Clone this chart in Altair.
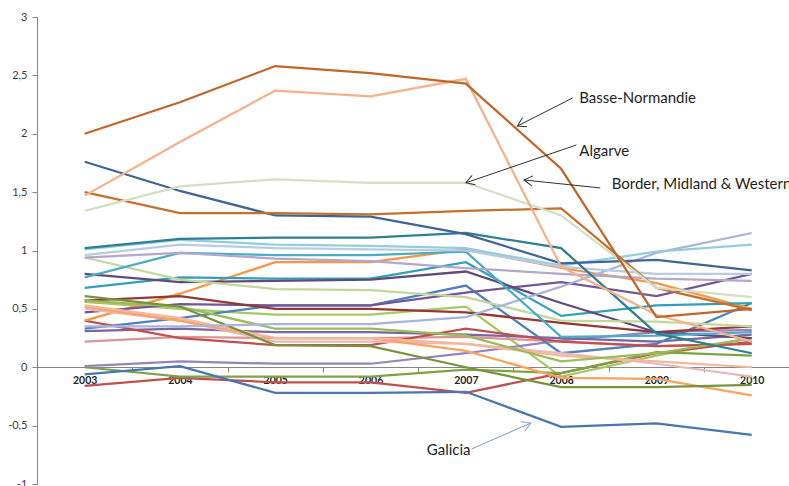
import math

import altair as alt
import pandas as pd

# ---------------------------------------------------------------- data
YEARS = [2003, 2004, 2005, 2006, 2007, 2008, 2009, 2010]

BASSE_NORMANDIE = [2.00, 2.27, 2.58, 2.52, 2.43, 1.70, 0.43, 0.50]
BORDER_MIDLAND_WESTERN = [1.47, 1.93, 2.37, 2.32, 2.47, 0.86, 0.45, 0.22]
ALGARVE = [1.34, 1.55, 1.61, 1.58, 1.58, 1.30, 0.68, 0.60]
GALICIA = [-0.06, 0.01, -0.22, -0.22, -0.21, -0.51, -0.48, -0.58]
REGION_05 = [1.50, 1.32, 1.32, 1.31, 1.34, 1.36, 0.68, 0.49]
REGION_06 = [1.76, 1.51, 1.30, 1.29, 1.14, 0.89, 0.92, 0.83]
REGION_07 = [1.02, 1.10, 1.11, 1.11, 1.15, 1.02, 0.29, 0.12]
REGION_08 = [0.96, 1.05, 1.02, 1.01, 1.00, 0.86, 0.80, 0.80]
REGION_09 = [0.94, 0.98, 0.93, 0.91, 0.85, 0.80, 0.76, 0.74]
REGION_10 = [0.77, 0.98, 0.96, 0.96, 0.99, 0.26, 0.27, 0.30]
REGION_11 = [1.01, 1.09, 1.05, 1.04, 1.02, 0.87, 0.99, 1.05]
REGION_12 = [0.35, 0.35, 0.37, 0.37, 0.43, 0.69, 0.98, 1.15]
REGION_13 = [0.94, 0.75, 0.67, 0.66, 0.60, 0.40, 0.39, 0.35]
REGION_14 = [0.80, 0.73, 0.74, 0.75, 0.82, 0.55, 0.30, 0.25]
REGION_15 = [0.68, 0.77, 0.76, 0.76, 0.90, 0.44, 0.53, 0.55]
REGION_16 = [0.61, 0.52, 0.19, 0.18, 0.00, -0.17, -0.17, -0.15]
REGION_17 = [0.57, 0.52, 0.33, 0.33, 0.27, 0.05, 0.12, 0.25]
REGION_18 = [0.57, 0.61, 0.50, 0.50, 0.47, 0.38, 0.30, 0.35]
REGION_19 = [0.53, 0.42, 0.25, 0.25, 0.20, 0.10, 0.05, 0.00]
REGION_20 = [0.52, 0.40, 0.25, 0.25, 0.14, -0.09, -0.10, -0.24]
REGION_21 = [0.50, 0.40, 0.22, 0.22, 0.20, 0.12, 0.03, -0.08]
REGION_22 = [0.47, 0.54, 0.53, 0.53, 0.64, 0.73, 0.61, 0.80]
REGION_23 = [0.40, 0.63, 0.90, 0.90, 1.01, 0.85, 0.72, 0.50]
REGION_24 = [0.40, 0.25, 0.19, 0.19, 0.33, 0.22, 0.18, 0.20]
REGION_25 = [0.33, 0.42, 0.53, 0.53, 0.70, 0.12, 0.20, 0.55]
REGION_26 = [0.31, 0.33, 0.30, 0.30, 0.28, 0.25, 0.22, 0.28]
REGION_27 = [0.22, 0.26, 0.25, 0.25, 0.26, 0.22, 0.18, 0.20]
REGION_28 = [0.01, 0.05, 0.03, 0.03, 0.12, 0.23, 0.30, 0.32]
REGION_29 = [0.00, -0.08, -0.08, -0.08, -0.02, -0.05, 0.13, 0.10]
REGION_30 = [-0.16, -0.09, -0.13, -0.13, -0.22, -0.05, 0.12, 0.22]
REGION_31 = [0.56, 0.50, 0.45, 0.45, 0.52, -0.08, 0.10, 0.25]

SERIES = [
    ("Region 31", REGION_31, "#A9C864"),
    ("Region 30", REGION_30, "#C0504D"),
    ("Region 29", REGION_29, "#7FA344"),
    ("Region 28", REGION_28, "#9583BC"),
    ("Region 27", REGION_27, "#D99694"),
    ("Region 26", REGION_26, "#7E649E"),
    ("Region 25", REGION_25, "#4F81BD"),
    ("Region 24", REGION_24, "#C0504D"),
    ("Region 23", REGION_23, "#F79646"),
    ("Region 22", REGION_22, "#70579A"),
    ("Region 21", REGION_21, "#E6B9B8"),
    ("Region 20", REGION_20, "#F9A35E"),
    ("Region 19", REGION_19, "#F4B79A"),
    ("Region 18", REGION_18, "#953735"),
    ("Region 17", REGION_17, "#9BBB59"),
    ("Region 16", REGION_16, "#77933C"),
    ("Region 15", REGION_15, "#31A0B8"),
    ("Region 14", REGION_14, "#604A7B"),
    ("Region 13", REGION_13, "#C3D69B"),
    ("Region 12", REGION_12, "#A7B5DC"),
    ("Region 11", REGION_11, "#93CDDD"),
    ("Region 10", REGION_10, "#4BACC6"),
    ("Region 09", REGION_09, "#B5A6CB"),
    ("Region 08", REGION_08, "#B7CCE4"),
    ("Region 07", REGION_07, "#2E7F94"),
    ("Region 06", REGION_06, "#3F6496"),
    ("Region 05", REGION_05, "#C4712F"),
    ("Galicia", GALICIA, "#4A76B0"),
    ("Algarve", ALGARVE, "#D3DEC2"),
    ("Border, Midland & Western", BORDER_MIDLAND_WESTERN, "#F6B08A"),
    ("Basse-Normandie", BASSE_NORMANDIE, "#C0662A"),
]

# callout texts: label, anchor year, anchor value (left edge, middle)
CALLOUT_LABELS = ["Basse-Normandie", "Algarve", "Border, Midland & Western", "Galicia"]
CALLOUT_YEAR = [2008.19, 2008.19, 2008.53, 2006.59]
CALLOUT_VALUE = [2.306, 1.852, 1.570, -0.713]

# callout arrows: tail -> tip
ARROW_TAIL_YEAR = [2008.12, 2008.16, 2008.41, 2007.06]
ARROW_TAIL_VALUE = [2.306, 1.904, 1.536, -0.700]
ARROW_TIP_YEAR = [2007.54, 2007.00, 2007.61, 2007.68]
ARROW_TIP_VALUE = [2.066, 1.580, 1.604, -0.478]
ARROW_COLORS = ["#303030", "#303030", "#303030", "#7F9BC8"]

# ---------------------------------------------------------------- layout
PLOT_W, PLOT_H = 752, 467
X_MIN = 2002.5
PX_PER_YEAR = 95.3
X_MAX = X_MIN + PLOT_W / PX_PER_YEAR
Y_MIN, Y_MAX = -1.0, 3.0
PX_PER_UNIT = PLOT_H / (Y_MAX - Y_MIN)
ZERO_OFFSET = -round(-Y_MIN * PX_PER_UNIT)

rows = []
for name, values, _ in SERIES:
    for yr, v in zip(YEARS, values):
        rows.append({"series": name, "year": yr, "value": v})
lines_df = pd.DataFrame(rows)

x_scale = alt.Scale(domain=[X_MIN, X_MAX], nice=False, zero=False)
y_scale = alt.Scale(domain=[Y_MIN, Y_MAX], nice=False, zero=False)

# labels sit on the years, tick marks between them
tick_values = []
for yr in YEARS:
    tick_values += [yr, yr + 0.5]
tick_values = tick_values[:-1]

x_axis = alt.Axis(
    values=tick_values,
    labelExpr="datum.value % 1 === 0 ? toString(datum.value) : ''",
    tickOpacity={"condition": {"test": "datum.value % 1 === 0", "value": 0}, "value": 1},
    offset=ZERO_OFFSET,
    title=None,
    grid=False,
    domainColor="#868686",
    tickColor="#868686",
    tickSize=5,
    labelFont="Lato",
    labelFontWeight="bold",
    labelFontSize=10.5,
    labelColor="#262626",
    labelPadding=3,
    labelOverlap=False,
    labelFlush=False,
)

y_axis = alt.Axis(
    values=[-1, -0.5, 0, 0.5, 1, 1.5, 2, 2.5, 3],
    labelExpr="replace(toString(datum.value), '.', ',')",
    title=None,
    grid=False,
    domainColor="#868686",
    tickColor="#868686",
    tickSize=5,
    labelFont="Lato",
    labelFontSize=11,
    labelColor="#404040",
    labelPadding=5,
    labelFlush=False,
)

lines = (
    alt.Chart(lines_df)
    .mark_line(strokeWidth=2.25)
    .encode(
        x=alt.X("year:Q", scale=x_scale, axis=x_axis),
        y=alt.Y("value:Q", scale=y_scale, axis=y_axis),
        color=alt.Color(
            "series:N",
            scale=alt.Scale(domain=[s[0] for s in SERIES], range=[s[2] for s in SERIES]),
            legend=None,
        ),
        detail="series:N",
    )
)

# arrows of the callouts
angles = []
for tx, ty, hx, hy in zip(ARROW_TAIL_YEAR, ARROW_TAIL_VALUE, ARROW_TIP_YEAR, ARROW_TIP_VALUE):
    dx = (hx - tx) * PX_PER_YEAR
    dy = -(hy - ty) * PX_PER_UNIT
    angles.append(math.degrees(math.atan2(dy, dx)) % 360)

arrows_df = pd.DataFrame(
    {
        "x": ARROW_TAIL_YEAR,
        "y": ARROW_TAIL_VALUE,
        "x2": ARROW_TIP_YEAR,
        "y2": ARROW_TIP_VALUE,
        "color": ARROW_COLORS,
        "angle": angles,
    }
)

shafts = (
    alt.Chart(arrows_df)
    .mark_rule(strokeWidth=1)
    .encode(
        x=alt.X("x:Q", scale=x_scale),
        y=alt.Y("y:Q", scale=y_scale),
        x2="x2:Q",
        y2="y2:Q",
        color=alt.Color("color:N", scale=None),
    )
)

heads = (
    alt.Chart(arrows_df)
    .mark_point(shape="M -1 -0.6 L 0 0 L -1 0.6", filled=False, size=280, strokeWidth=1, opacity=1)
    .encode(
        x=alt.X("x2:Q", scale=x_scale),
        y=alt.Y("y2:Q", scale=y_scale),
        angle=alt.Angle("angle:Q", scale=None),
        color=alt.Color("color:N", scale=None),
    )
)

labels_df = pd.DataFrame({"label": CALLOUT_LABELS, "x": CALLOUT_YEAR, "y": CALLOUT_VALUE})
labels = (
    alt.Chart(labels_df)
    .mark_text(align="left", baseline="middle", font="Lato", fontSize=15, color="#1E1E1E")
    .encode(
        x=alt.X("x:Q", scale=x_scale),
        y=alt.Y("y:Q", scale=y_scale),
        text="label:N",
    )
)

chart = (
    alt.layer(lines, shafts, heads, labels)
    .properties(
        width=PLOT_W,
        height=PLOT_H,
        autosize=alt.AutoSizeParams(type="none"),
        padding={"left": 37, "top": 17, "right": 0, "bottom": 2},
        background="white",
    )
    .configure_view(stroke=None)
)

chart.save("out.html", embed_options={"renderer": "svg", "actions": False})
